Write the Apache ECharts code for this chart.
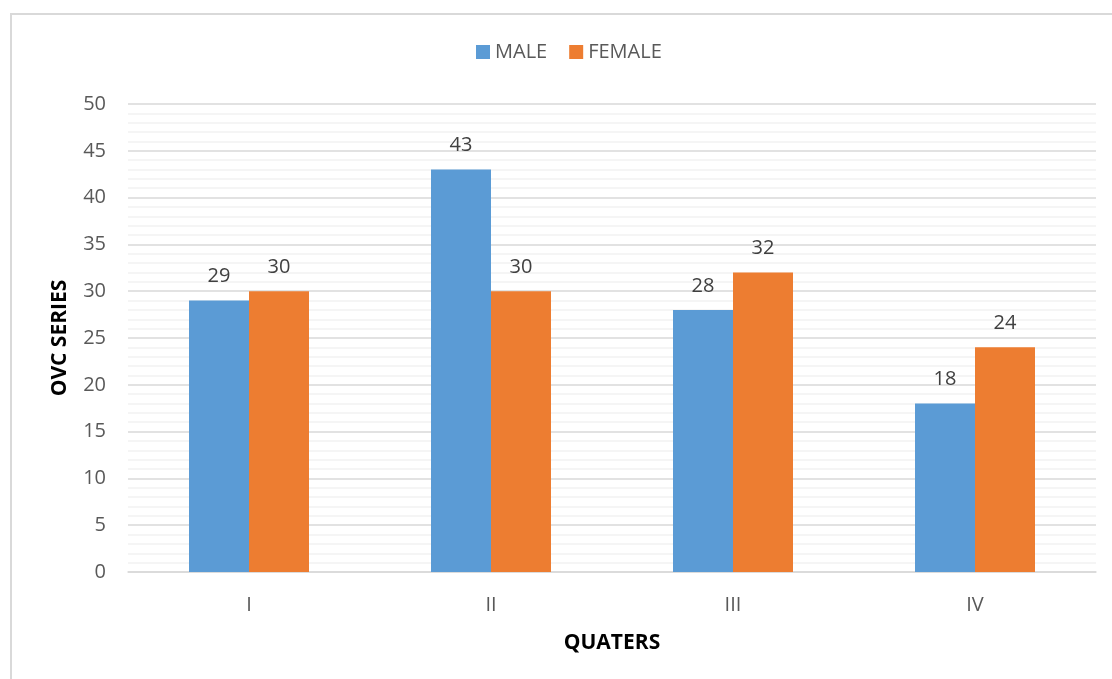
<!DOCTYPE html>
<html>
<head>
<meta charset="utf-8">
<script src="https://cdn.jsdelivr.net/npm/echarts@6/dist/echarts.min.js"></script>
<style>
	html, body { margin: 0; padding: 0; background: #fff; }
	#chart { width: 1112px; height: 679px; }
</style>
</head>
<body>
<div id="chart"></div>
<script>
	const categories = ["I", "II", "III", "IV"];
	const maleValues = [29, 43, 28, 18];
	const femaleValues = [30, 30, 32, 24];
	const yTicks = [0, 5, 10, 15, 20, 25, 30, 35, 40, 45, 50];

	const font = "'Open Sans', 'Noto Sans', sans-serif";
	const chart = echarts.init(document.getElementById("chart"));

	const labelStyle = {
		show: true,
		position: "top",
		distance: 14,
		fontSize: 20,
		fontFamily: font,
		color: "#404040"
	};

	chart.setOption({
		animation: false,
		textStyle: { fontFamily: font },
		graphic: [
			{
				type: "rect",
				shape: { x: 11, y: 14, width: 1120, height: 700 },
				style: { fill: "none", stroke: "#d9d9d9", lineWidth: 2 },
				silent: true
			}
		],
		legend: {
			top: 37,
			left: 471,
			itemWidth: 14,
			itemHeight: 14,
			itemGap: 22,
			itemStyle: { borderWidth: 0 },
			icon: "rect",
			textStyle: { fontSize: 20, color: "#595959", fontFamily: font },
			data: ["MALE", "FEMALE"]
		},
		grid: {
			left: 128,
			right: 16,
			top: 104,
			bottom: 107
		},
		xAxis: {
			type: "category",
			data: categories,
			name: "QUATERS",
			nameLocation: "middle",
			nameGap: 61,
			nameTextStyle: { fontSize: 21, fontWeight: "bold", color: "#000", fontFamily: font },
			axisLine: { lineStyle: { color: "#d9d9d9", width: 1.5 } },
			axisTick: { show: false },
			axisLabel: { fontSize: 20, color: "#595959", margin: 23 }
		},
		yAxis: {
			type: "value",
			min: yTicks[0],
			max: yTicks[yTicks.length - 1],
			interval: 5,
			name: "OVC SERIES",
			nameLocation: "middle",
			nameGap: 57,
			nameTextStyle: { fontSize: 21, fontWeight: "bold", color: "#000", fontFamily: font },
			axisLine: { show: false },
			axisTick: { show: false },
			axisLabel: { fontSize: 20, color: "#595959", margin: 22 },
			splitLine: { lineStyle: { color: "#d9d9d9", width: 1.5 } },
			minorTick: { show: false, splitNumber: 5 },
			minorSplitLine: { show: true, lineStyle: { color: "#f2f2f2", width: 1.5 } }
		},
		series: [
			{
				name: "MALE",
				type: "bar",
				data: maleValues,
				barWidth: 60,
				barGap: "0%",
				itemStyle: { color: "#5b9bd5" },
				label: labelStyle
			},
			{
				name: "FEMALE",
				type: "bar",
				data: femaleValues,
				barWidth: 60,
				barGap: "0%",
				itemStyle: { color: "#ed7d31" },
				label: labelStyle
			}
		]
	});
</script>
</body>
</html>
